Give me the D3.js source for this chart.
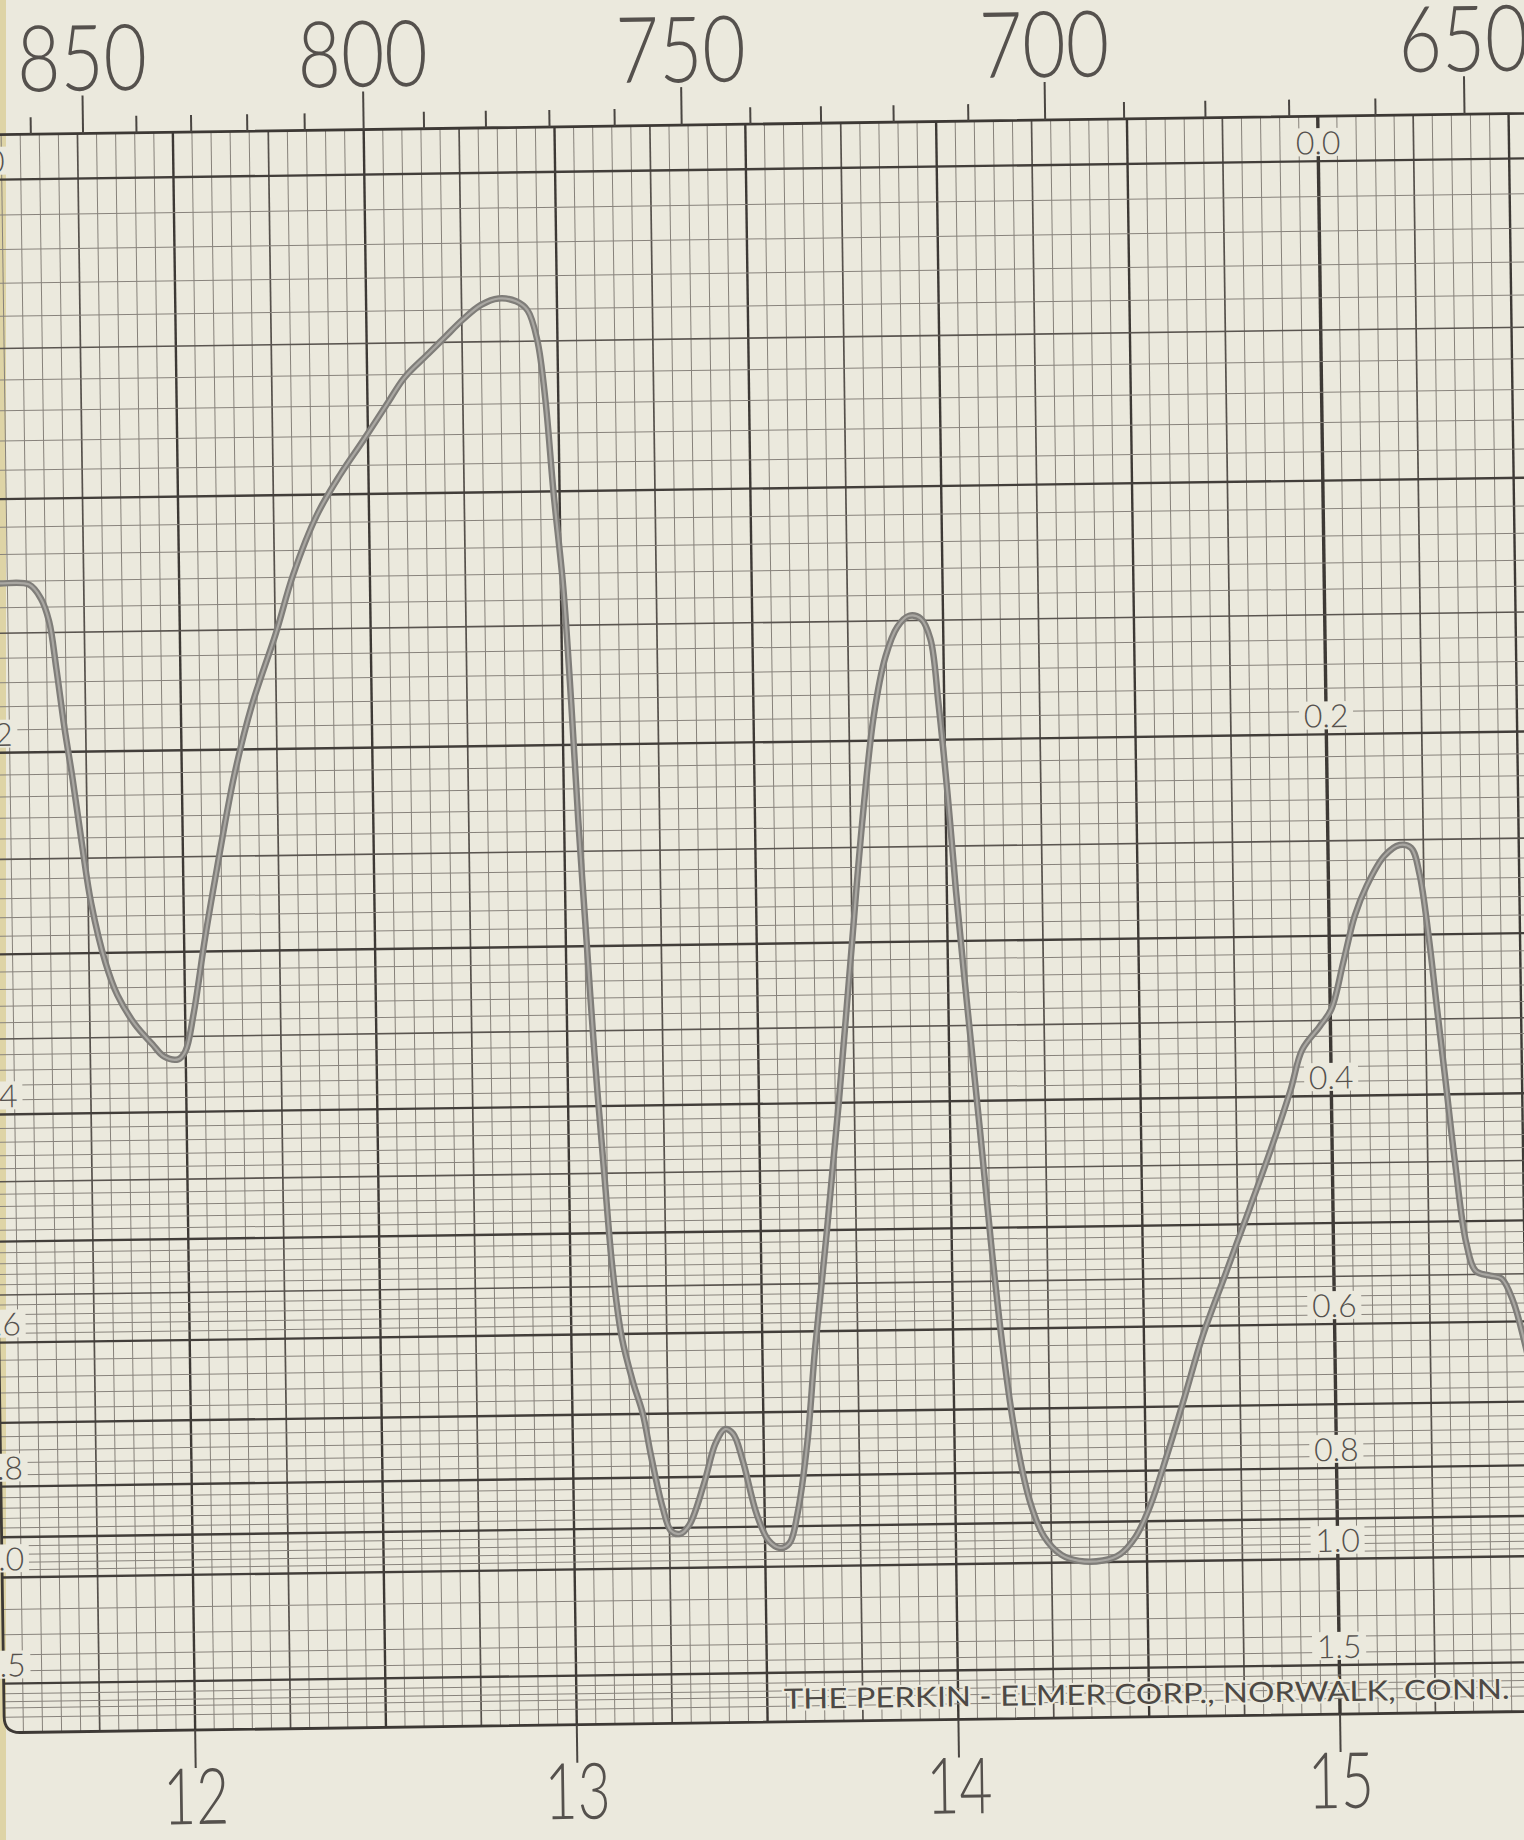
<!DOCTYPE html>
<html>
<head>
<meta charset="utf-8">
<script src="https://cdn.jsdelivr.net/npm/d3@7"></script>
<style>
  body { margin: 0; background: #ebe9dd; }
  svg { display: block; }
  text { font-family: "Lato", "Open Sans", sans-serif; font-weight: 300; fill: #55514d; }
</style>
</head>
<body>
<div id="chart"></div>
<script>
var W = 1524, H = 1840;
var paper = "#ebe9dd";

// trace: wavelength in microns, % transmittance
var wavelength = [11.48, 11.530, 11.607, 11.637, 11.658, 11.675, 11.694, 11.714, 11.736, 11.758, 11.793,
  11.823, 11.868, 11.913, 11.943, 11.980, 11.999, 12.022, 12.055, 12.089, 12.138,
  12.187, 12.251, 12.299, 12.363, 12.426, 12.488, 12.551, 12.598, 12.661, 12.707,
  12.754, 12.801, 12.847, 12.893, 12.923, 12.947, 12.966, 12.984, 13.006, 13.023,
  13.037, 13.054, 13.071, 13.092, 13.110, 13.132, 13.161, 13.184, 13.204, 13.233,
  13.254, 13.278, 13.303, 13.342, 13.374, 13.399, 13.420, 13.444, 13.479, 13.509,
  13.539, 13.564, 13.586, 13.614, 13.638, 13.673, 13.709, 13.745, 13.781, 13.815,
  13.848, 13.880, 13.911, 13.942, 13.966, 13.985, 14.006, 14.024, 14.050, 14.077,
  14.103, 14.130, 14.158, 14.195, 14.231, 14.276, 14.322, 14.384, 14.430, 14.471,
  14.509, 14.557, 14.605, 14.653, 14.717, 14.781, 14.845, 14.893, 14.925, 14.972,
  15.003, 15.036, 15.068, 15.100, 15.147, 15.188, 15.218, 15.239, 15.261, 15.280,
  15.299, 15.321, 15.348, 15.372, 15.409, 15.439, 15.469, 15.504];
var transmittance = [74.0, 74.0, 73.9, 73.0, 71.5, 68.5, 64.7, 61.3, 57.1, 53.3, 49.5,
  47.4, 45.5, 44.2, 43.4, 43.2, 43.7, 46.1, 51.0, 55.5, 61.5,
  66.0, 70.5, 74.3, 78.1, 80.7, 82.9, 85.2, 86.9, 88.4, 89.5,
  90.6, 91.5, 91.9, 91.7, 91.1, 89.2, 85.4, 79.4, 73.3, 65.7,
  58.2, 50.6, 43.1, 35.5, 29.4, 24.9, 21.9, 20.0, 17.3, 13.9,
  12.4, 12.2, 12.8, 15.4, 18.0, 18.9, 18.6, 16.9, 13.4, 11.7,
  11.2, 11.5, 13.4, 17.9, 24.0, 31.5, 39.8, 48.9, 57.9, 64.7,
  68.5, 70.4, 71.1, 70.9, 69.6, 65.4, 59.4, 53.3, 45.7, 38.2,
  30.6, 23.8, 18.5, 14.0, 11.7, 10.5, 10.1, 10.1, 10.5, 11.6,
  13.5, 16.9, 20.6, 24.4, 28.5, 32.6, 36.8, 40.2, 42.8, 44.3,
  45.4, 48.4, 51.4, 53.3, 55.2, 55.9, 55.7, 54.0, 49.9, 45.3,
  40.8, 35.5, 30.2, 28.4, 28.1, 27.9, 26.4, 23.0];

var wavenumberLabels = [850, 800, 750, 700, 650];
var micronLabels = [12, 13, 14, 15];
var absorbanceLabels = [0.0, 0.2, 0.4, 0.6, 0.8, 1.0, 1.5];
var footer = "THE PERKIN - ELMER CORP., NORWALK, CONN.";

var x = d3.scaleLinear().domain([12, 15]).range([184, 1329]);
var y = d3.scaleLinear().domain([0, 100]).range([1714, 161]);
function yAbs(a) { return y(100 * Math.pow(10, -a)); }

var top0 = 116, bottom0 = y(0);
var left0 = x(11.5), right0 = x(16.3);

var svg = d3.select("#chart").append("svg")
    .attr("width", W).attr("height", H);

svg.append("rect").attr("width", W).attr("height", H).attr("fill", paper);
// yellowed page edge
svg.append("rect").attr("x", 0).attr("y", 0).attr("width", 6).attr("height", H)
    .attr("fill", "#dcd09c").attr("opacity", 0.85);

// the scanned sheet sits slightly rotated
var g = svg.append("g").attr("transform", "rotate(-0.8,1340,923)");

// vertical grid, every 0.05 micron
var vLines = d3.range(231, 327).map(function(i) { return i / 20; });
g.append("g").selectAll("line")
  .data(vLines)
  .enter().append("line")
    .attr("x1", function(d) { return x(d); })
    .attr("x2", function(d) { return x(d); })
    .attr("y1", top0).attr("y2", bottom0)
    .attr("stroke", function(d) {
      var i = Math.round(d * 20);
      return i % 10 == 0 ? "#3d3935" : (i % 5 == 0 ? "#56514c" : "#86817a");
    })
    .attr("stroke-width", function(d) {
      var i = Math.round(d * 20);
      if (i == 300) return 3.4;
      return i % 10 == 0 ? 2.4 : (i % 5 == 0 ? 1.7 : 1.0);
    });

// horizontal grid, uniform in absorbance
var hLines = d3.range(0, 61).map(function(i) { return i / 100; })
  .concat(d3.range(31, 51).map(function(i) { return i / 50; }))
  .concat([1.1, 1.2, 1.3, 1.4, 1.5, 1.6, 1.7, 1.8, 2.0]);
g.append("g").selectAll("line")
  .data(hLines)
  .enter().append("line")
    .attr("x1", left0).attr("x2", right0)
    .attr("y1", function(d) { return yAbs(d); })
    .attr("y2", function(d) { return yAbs(d); })
    .attr("stroke", function(d) {
      var i = Math.round(d * 100);
      if ((i % 10 == 0 && i <= 100) || i == 150) return "#423e3a";
      return i % 5 == 0 && i <= 60 ? "#5a5550" : "#88837c";
    })
    .attr("stroke-width", function(d) {
      var i = Math.round(d * 100);
      if ((i % 10 == 0 && i <= 100) || i == 150) return 2.4;
      return i % 5 == 0 && i <= 60 ? 1.6 : 1.0;
    });

// sheet border with rounded left corners
var r = 16;
g.append("path")
  .attr("d", "M" + right0 + "," + top0 + " L" + (left0 + r) + "," + top0 +
    " Q" + left0 + "," + top0 + " " + left0 + "," + (top0 + r) +
    " L" + left0 + "," + (bottom0 - r) +
    " Q" + left0 + "," + bottom0 + " " + (left0 + r) + "," + bottom0 +
    " L" + right0 + "," + bottom0)
  .attr("fill", "none").attr("stroke", "#3d3935").attr("stroke-width", 2.8);

// wavenumber ticks and labels along the top
var wnTicks = d3.range(880, 630, -10);
g.append("g").selectAll("line")
  .data(wnTicks)
  .enter().append("line")
    .attr("x1", function(d) { return x(10000 / d); })
    .attr("x2", function(d) { return x(10000 / d); })
    .attr("y1", top0)
    .attr("y2", function(d) { return d % 50 == 0 ? top0 - 38 : top0 - 17; })
    .attr("stroke", "#4a4642").attr("stroke-width", 2);

g.append("g").selectAll("text")
  .data(wavenumberLabels)
  .enter().append("text")
    .attr("x", function(d) { return x(10000 / d); })
    .attr("y", 73)
    .attr("text-anchor", "middle")
    .attr("font-size", 92)
    .attr("textLength", 130).attr("lengthAdjust", "spacingAndGlyphs")
    .text(function(d) { return d; });

// micron ticks and labels along the bottom
g.append("g").selectAll("line")
  .data(micronLabels)
  .enter().append("line")
    .attr("x1", function(d) { return x(d); })
    .attr("x2", function(d) { return x(d); })
    .attr("y1", bottom0).attr("y2", bottom0 + 38)
    .attr("stroke", "#4a4642").attr("stroke-width", 2);

g.append("g").selectAll("text")
  .data(micronLabels)
  .enter().append("text")
    .attr("x", function(d) { return x(d); })
    .attr("y", 1808)
    .attr("text-anchor", "middle")
    .attr("font-size", 78)
    .attr("textLength", 66).attr("lengthAdjust", "spacingAndGlyphs")
    .text(function(d) { return d; });

// absorbance scale printed on the 15 and 11.5 micron lines
[15, 11.5].forEach(function(lam) {
  var lg = g.append("g").selectAll("g")
    .data(absorbanceLabels)
    .enter().append("g")
      .attr("transform", function(d) { return "translate(" + x(lam) + "," + (yAbs(d) - 7) + ")"; });
  lg.append("rect")
    .attr("x", -27).attr("y", -26).attr("width", 54).attr("height", 28)
    .attr("fill", paper);
  lg.append("text")
    .attr("text-anchor", "middle")
    .attr("font-size", 32)
    .text(function(d) { return d.toFixed(1); });
});

// maker's imprint
g.append("text")
  .attr("x", 773).attr("y", 1701)
  .attr("font-size", 28)
  .attr("textLength", 726).attr("lengthAdjust", "spacingAndGlyphs")
  .attr("paint-order", "stroke").attr("stroke", paper).attr("stroke-width", 4)
  .style("font-weight", 400).style("fill", "#4d4945")
  .text(footer);

// the recorded trace
var pts = wavelength.map(function(w, i) { return [w, transmittance[i]]; });
var line = d3.line()
  .x(function(d) { return x(d[0]); })
  .y(function(d) { return y(d[1]); })
  .curve(d3.curveCatmullRom.alpha(0.5));

g.append("path").datum(pts)
  .attr("d", line)
  .attr("fill", "none").attr("stroke", "#7f7d79").attr("stroke-width", 6.5)
  .attr("stroke-linejoin", "round").attr("stroke-linecap", "round");
g.append("path").datum(pts)
  .attr("d", line)
  .attr("fill", "none").attr("stroke", "#a9a7a2").attr("stroke-width", 2.2)
  .attr("stroke-linejoin", "round");
</script>
</body>
</html>
